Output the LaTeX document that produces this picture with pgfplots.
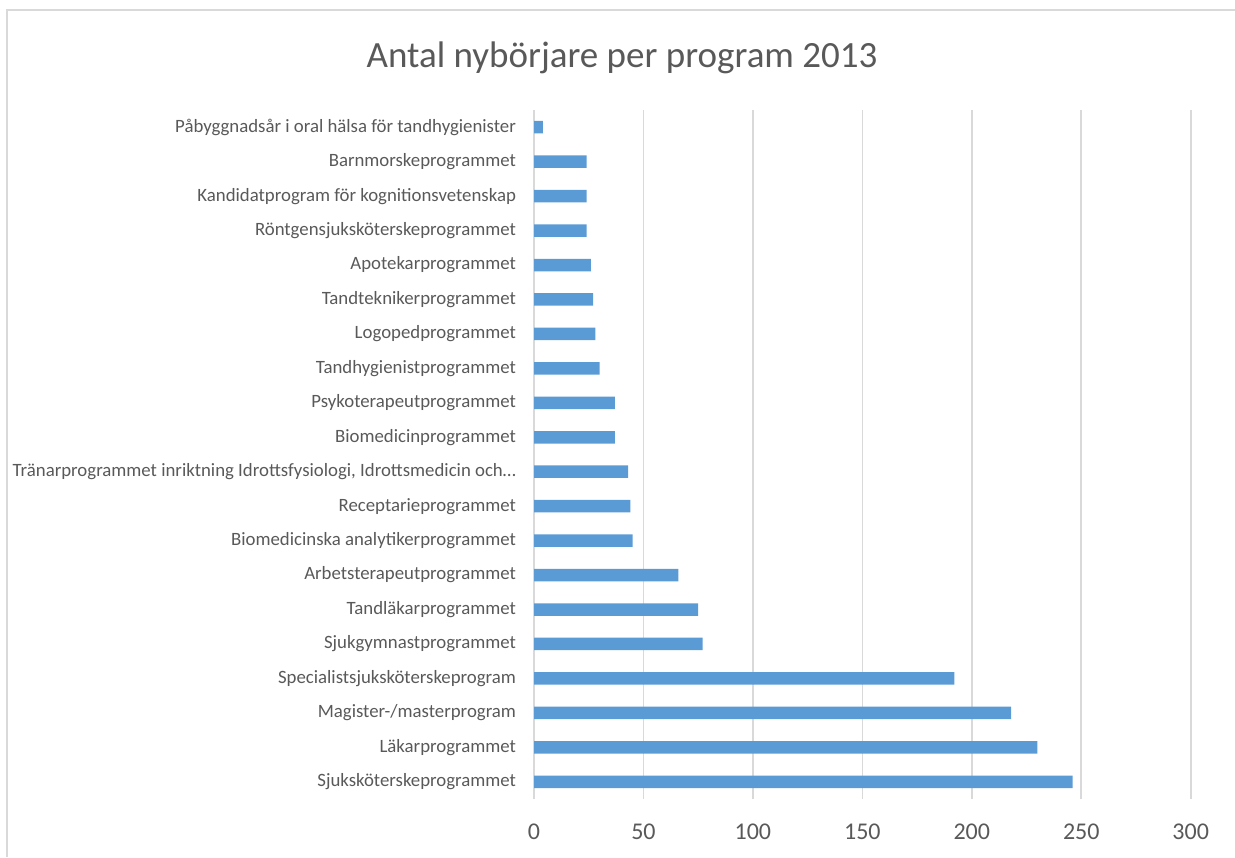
\documentclass[border=0pt]{standalone}
\usepackage{fontspec}
\setmainfont{Carlito}
\usepackage{pgfplots}
\pgfplotsset{compat=1.18}
\definecolor{barblue}{HTML}{5B9BD5}
\definecolor{txtgray}{HTML}{595959}
\definecolor{gridgray}{HTML}{D9D9D9}

\pgfplotstableread[col sep=comma]{
idx,val
0,246
1,230
2,218
3,192
4,77
5,75
6,66
7,45
8,44
9,43
10,37
11,37
12,30
13,28
14,27
15,26
16,24
17,24
18,24
19,4
}\nyborjare

\begin{document}
\begin{tikzpicture}
\path[use as bounding box] (0,0) rectangle (617.5pt,428.5pt);
\draw[gridgray, line width=1pt] (3.5pt,0) -- (3.5pt,423.5pt) -- (617.5pt,423.5pt);
\node[text=txtgray, font=\fontsize{18.5}{22}\selectfont] at (311pt,399.5pt) {Antal nybörjare per program 2013};
\begin{axis}[
    at={(267pt,29pt)}, anchor=south west,
    scale only axis, width=328.35pt, height=344.5pt,
    xbar, bar width=6.25pt,
    xmin=0, xmax=300, xtick={0,50,...,300},
    ymin=-0.5, ymax=19.5, ytick={0,...,19},
    yticklabels={Sjuksköterskeprogrammet, Läkarprogrammet, Magister-/masterprogram,
      Specialistsjuksköterskeprogram, Sjukgymnastprogrammet, Tandläkarprogrammet,
      Arbetsterapeutprogrammet, Biomedicinska analytikerprogrammet, Receptarieprogrammet,
      {Tränarprogrammet inriktning Idrottsfysiologi, Idrottsmedicin och…},
      Biomedicinprogrammet, Psykoterapeutprogrammet, Tandhygienistprogrammet,
      Logopedprogrammet, Tandteknikerprogrammet, Apotekarprogrammet,
      Röntgensjuksköterskeprogrammet, Kandidatprogram för kognitionsvetenskap,
      Barnmorskeprogrammet, Påbyggnadsår i oral hälsa för tandhygienister},
    axis line style={draw=none},
    major tick length=0pt,
    xmajorgrids, grid style={gridgray, line width=0.8pt},
    /pgf/number format/assume math mode=true,
    yticklabel style={font=\fontsize{9.4}{11}\selectfont, text=txtgray, xshift=-5.5pt},
    xticklabel style={font=\fontsize{12}{14}\selectfont, text=txtgray, yshift=-9pt},
  ]
  \addplot[fill=barblue, draw=none] table[x=val, y=idx] {\nyborjare};
\end{axis}
\end{tikzpicture}
\end{document}
